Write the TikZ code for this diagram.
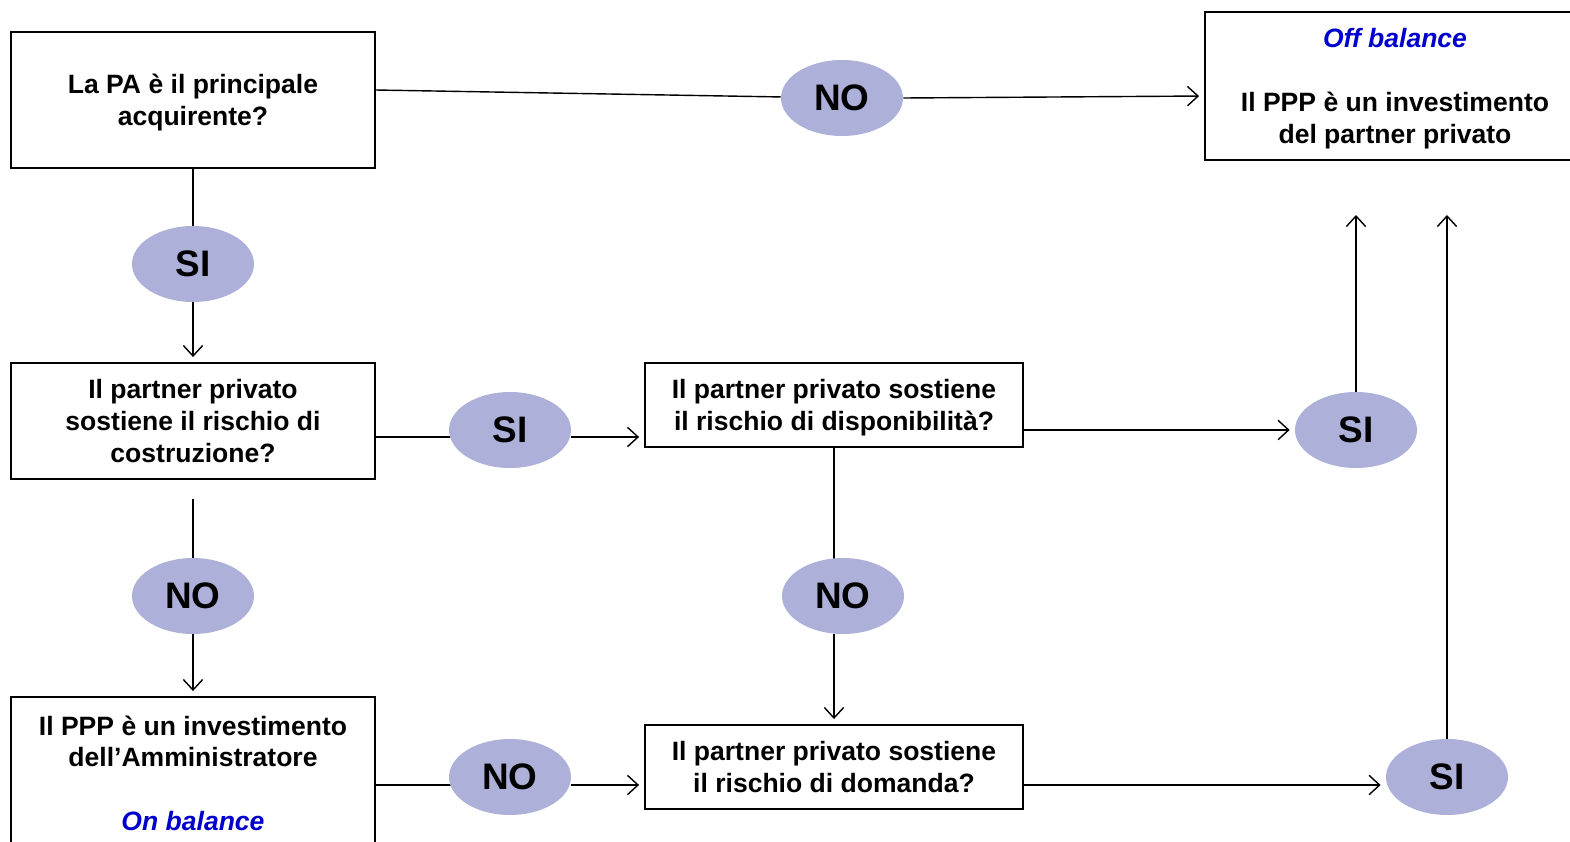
\documentclass[tikz,border=0pt]{standalone}
\usepackage{fontspec}
\setmainfont{Liberation Sans}
\usetikzlibrary{shapes.geometric,arrows.meta,backgrounds}
\definecolor{lav}{RGB}{173,176,217}
\definecolor{offblue}{RGB}{0,0,204}
\tikzset{
 box/.style={draw, line width=1.1pt, fill=white, align=center, font=\fontsize{15.1}{18.1}\selectfont\bfseries, inner sep=0pt, text depth=0pt},
 oval/.style={ellipse, fill=lav, minimum width=2.44cm, minimum height=1.52cm, inner sep=0pt, font=\fontsize{21}{24}\selectfont\bfseries},
 conn/.style={line width=0.8pt},
 arr/.style={conn, -{Straight Barb[length=6pt,width=11pt]}, shorten >=0.1cm},
}
\begin{document}
\begin{tikzpicture}[x=0.02cm,y=-0.02cm]
\clip (0,0) rectangle (1570,842);
% boxes
\node[box, minimum width=7.28cm, minimum height=2.72cm] (A) at (193,100) {La PA è il principale\\acquirente?};
\node[box, minimum width=7.6cm, minimum height=2.96cm] (Off) at (1395,86) {\textcolor{offblue}{\itshape Off balance}\\[18.1pt]Il PPP è un investimento\\del partner privato};
\node[box, minimum width=7.28cm, minimum height=2.32cm] (B) at (193,421) {Il partner privato\\sostiene il rischio di\\costruzione?};
\node[box, minimum width=7.56cm, minimum height=1.68cm] (C) at (834,405) {Il partner privato sostiene\\il rischio di disponibilità?};
\node[box, minimum width=7.28cm, minimum height=3.04cm] (D) at (193,773) {Il PPP è un investimento\\dell’Amministratore\\[18.1pt]\textcolor{offblue}{\itshape On balance}};
\node[box, minimum width=7.56cm, minimum height=1.68cm] (E) at (834,767) {Il partner privato sostiene\\il rischio di domanda?};
% ovals
\node[oval] (NO1) at (842,98) {NO};
\node[oval] (SI1) at (193,264) {SI};
\node[oval] (SI2) at (510,430) {SI};
\node[oval] (SI3) at (1356,430) {SI};
\node[oval] (NO2) at (193,596) {NO};
\node[oval] (NO3) at (843,596) {NO};
\node[oval] (NO4) at (510,777) {NO};
\node[oval] (SI4) at (1447,777) {SI};
\coordinate (up1) at (1356,215);
\coordinate (up2) at (1447,215);
% connectors
\begin{scope}[on background layer]
\draw[conn] ([yshift=0.2cm]A.east) -- (NO1);
\draw[arr] (NO1.east) -- ([yshift=-0.2cm]Off.west);
\draw[conn] (A.south) -- (SI1);
\draw[arr] (SI1.south) -- (B.north);
\draw[conn] ([yshift=-0.32cm]B.east) coordinate (b1) -- (b1 -| SI2);
\draw[arr] (b1 -| SI2.east) -- (b1 -| C.west);
\draw[arr] (C.east |- SI3) -- (SI3.west);
\draw[arr, shorten >=0pt] (SI3.north) -- (up1);
\draw[arr, shorten >=0pt] (SI4.north) -- (up2);
\draw[conn] ([yshift=-0.38cm]B.south) -- (NO2);
\draw[arr] (NO2.south) -- (D.north);
\draw[conn] (C.south) -- (C.south |- NO3);
\draw[arr] (C.south |- NO3.south) -- (C.south |- E.north);
\draw[conn] ([yshift=-0.24cm]D.east) coordinate (d1) -- (d1 -| NO4);
\draw[arr] (d1 -| NO4.east) -- (d1 -| E.west);
\draw[arr] ([yshift=-0.36cm]E.east) coordinate (e1) -- (e1 -| SI4.west);
\end{scope}
\end{tikzpicture}
\end{document}
